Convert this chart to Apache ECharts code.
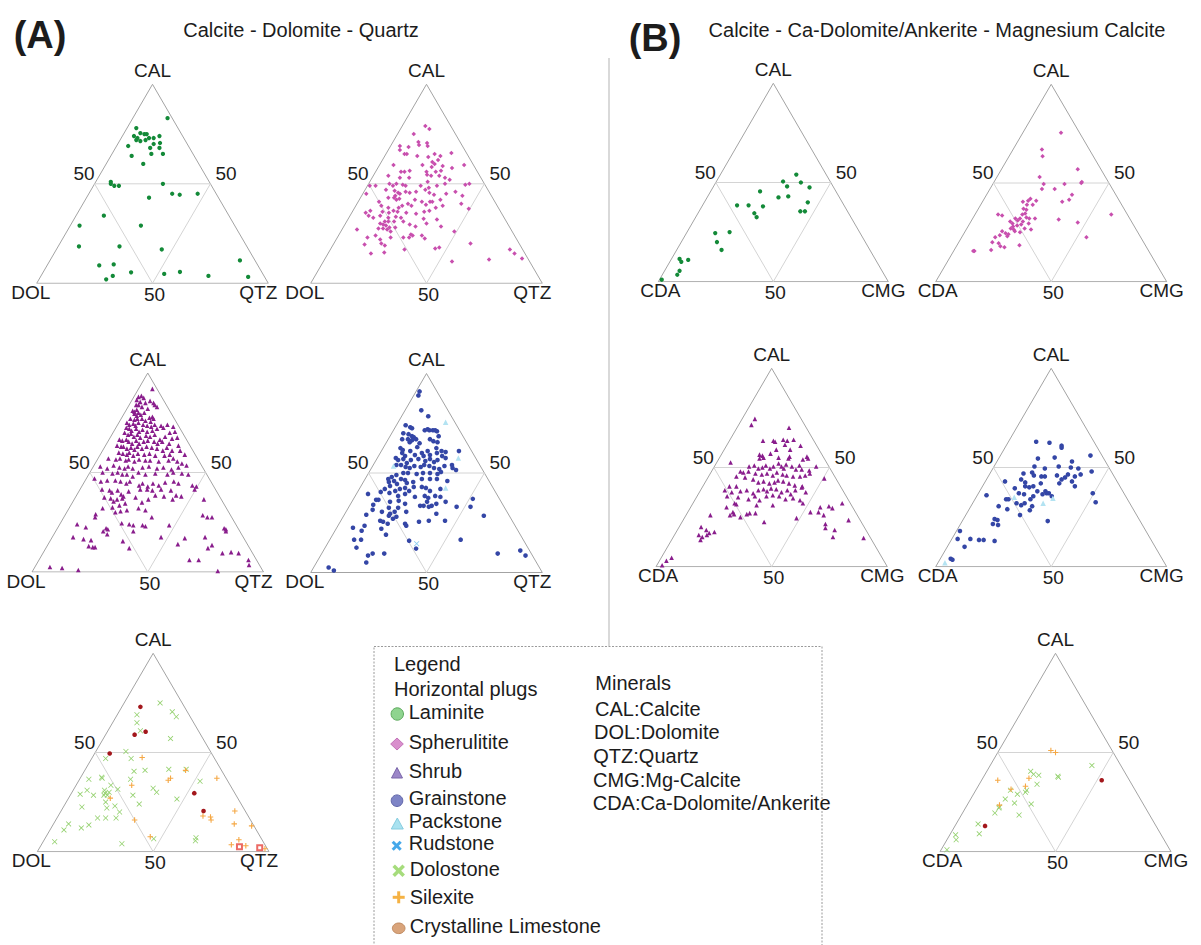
<!DOCTYPE html>
<html><head><meta charset="utf-8">
<script src="https://cdn.jsdelivr.net/npm/echarts/dist/echarts.min.js"></script>
<style>html,body{margin:0;padding:0;background:#fff}#c{width:1201px;height:945px}</style>
</head><body><div id="c"></div>
<script>
// ---------------- DATA (ternary compositions, percent) ----------------
// Panel A: [CAL, QTZ]  (DOL = 100 - CAL - QTZ)
const laminiteCDQ = [[83,15],[78,4],[74,5],[75.5,7],[75,9],[75,10],[73,12],[73,14],[74,16],[73,7],[72,7],[71.5,9],[72,11],[70.5,18],[70,15.5],[69,5],[68,15],[68,19],[64,9],[65,17],[65,22],[60,16],[51,6.5],[50,7],[49,9],[49,11],[50,29.5],[45,36],[44.5,39.5],[45,47],[43,27],[34,12],[29,4],[29,30.5],[18.5,9],[18.5,26.5],[17,45.5],[9,22.5],[9.5,28.5],[5.5,38],[3.7,31],[2,29],[4.7,52.7],[5.7,59],[3.7,72.3],[11.5,82],[3.2,89.7]];
const spherulititeCDQ = [[79,10],[77.5,12.5],[75,7],[71,11],[69.5,12],[70.5,15],[69,16],[69,4],[68.5,8],[67,5],[65,8],[65,9],[65,21],[64,24],[65.5,28],[64,14],[63.5,19],[62,24],[61,22],[59.5,6],[59.5,18.5],[60,23.5],[58.5,23],[59,27.5],[58,32],[59.5,36.5],[56,11],[56,12.5],[56.5,14.5],[56,22],[56,26],[56.5,28],[54,6.5],[53,12],[53,16],[54.5,23],[54,25],[54,28.5],[53,31.5],[52,34],[51,25],[49,1],[49,3.5],[50,9],[49,11],[50,12],[49.5,15],[49,16.5],[49,23],[48,27],[49,30],[50,33],[49.5,42],[50,43.5],[45,1.5],[47,9],[46.5,13],[45.5,15],[44,14.5],[45,16],[46,18],[45.5,20],[46,22.5],[47,26],[45.5,28.5],[44.5,31],[45,36],[46,39.5],[44,43.5],[41,9],[43,12],[43,14.5],[42,16],[42.5,17],[42,24],[41,27.5],[41,31],[41,32],[42,35],[40,45],[39,11],[38,14.5],[36.5,17.5],[38,19],[39,20],[40,22],[39,24],[39.5,30],[38,35],[39,37.5],[36.5,7.5],[35.5,6],[36,13],[35.5,16],[36,19.5],[35.5,23.5],[35,28],[36,31],[36.5,33],[37.5,49.5],[34,8],[33,10.5],[34,13],[33,17],[33.5,20],[33,22.5],[31,18],[31,16.5],[30,15],[29.5,16.5],[29,18],[28,20],[31,20.5],[31,24.5],[29.5,28],[32.5,32.5],[30,35],[32,38.5],[27.5,15.5],[27.5,17.5],[27,19.5],[26,21.5],[28,22.5],[28.5,31],[28.5,42],[27,6.5],[26,49],[23,13],[24,16],[22,19],[23,23],[23,28.5],[23,31],[24.5,31],[24,32],[24,36],[22.5,38],[19.5,13.5],[20,20.5],[19,22.5],[17,32],[17.5,45],[18,46.5],[20,59],[15,18.5],[15.5,24],[11,55.5],[12,71],[17,77.5],[15,80.5],[12.5,85]];
const shrubCDQ = [[92,6],[88,2],[88.5,3],[87.5,4.5],[86.5,2],[85.5,4],[85,6.5],[86,8],[85,10],[84,3],[84,4],[83,6],[82,9],[84,11],[83,12.5],[81,3],[80.5,4],[81.5,4.5],[80,6],[79.5,4.5],[78.5,6],[79,7.5],[80,8.5],[77.5,12],[78,13],[77,4],[76.5,6],[77,7],[77,9],[76,11],[75.5,13.5],[77,14],[75,3.5],[74,5],[74.5,6.5],[73.5,8],[75,8.5],[74,11],[73.5,13],[73,15],[74,16],[73.5,19],[74,21.5],[73,24.5],[72.5,4.5],[72,6],[71,7.5],[72,9],[70.5,11],[71.5,12],[70.5,14.5],[71,16.5],[72,18],[72.5,20.5],[70,24.5],[70.5,26.5],[70,5],[69,7],[69.5,8],[68,10],[69,11],[67.5,13],[68.5,15],[68,17],[69,18.5],[66.5,22],[68,23.5],[67,27],[67.5,29],[66.5,4.5],[66,6],[66.5,7.5],[65.5,9],[64.5,11],[66,12],[64.5,14],[65.5,15.5],[66,17],[65.5,20],[64.5,22],[65.5,23.5],[64.5,27],[63.5,31.5],[63.5,5],[63,7],[63,8],[62,10],[62.5,11.5],[61.5,13.5],[63,14],[62,16.5],[63,18],[62.5,20.5],[62,23],[61,26],[62.5,27],[61,30],[61,33.5],[60,7.5],[59.5,9.5],[59,11.5],[60,12],[58.5,14.5],[59.5,16],[59,19],[59.5,21],[58.5,24],[58.5,28],[59,30],[57,32.5],[59,36.5],[57,4.5],[56.5,8],[57,9.5],[56,12.5],[56.5,13.5],[55.5,16.5],[56.5,18],[56,21],[56,23],[55.5,27],[56,31],[55.5,35],[54.5,37.5],[53,3],[52,6.5],[53.5,8.5],[52.5,11.5],[52,14],[53,15],[52,17.5],[52.5,21.5],[53,24],[52,28],[52.5,30.5],[51.5,34.5],[52.5,37],[53.5,40],[50,5.5],[49.5,10],[50,12],[49,14.5],[49,16.5],[48,19.5],[50,21],[49,24.5],[49.5,28.5],[49,34],[50,36],[49.5,40],[49,43],[47,3.5],[45.5,7],[46,9.5],[46,13],[45.5,15.5],[44.5,18.5],[45.5,19.5],[43.5,24.5],[44.5,25.5],[43,28.5],[44.5,30],[43.5,33],[45,35],[45.5,38.5],[44.5,41],[43.5,47.5],[43,49.5],[41.5,9.5],[41,13],[40,14.5],[41,16.5],[39,19],[38,20.5],[40.5,21.5],[41.5,26],[41.5,29],[41,31.5],[41.5,35],[41,39.5],[38.5,43],[38,45.5],[41.5,49.5],[37.5,12.5],[37,15.5],[35.5,17.5],[36.5,18.5],[37,20.5],[34.5,23],[37.5,26],[35,30],[36.5,32],[38.5,34],[38,38],[36.5,42.5],[36.5,56],[32,14.5],[32.5,18.5],[33.5,21],[31,25.5],[32,30],[31,33.5],[28.5,59.5],[27.5,62],[27.5,64],[29,13],[27.5,13.5],[30,21],[30.5,23],[27.5,38],[24,7.5],[22.5,12],[22,21],[24.5,26.5],[24,30],[23.5,32],[23.5,36],[23,37.5],[23.5,47.5],[20.5,20.5],[21.5,22],[20.5,33.5],[17.5,47],[22,72],[21.5,73],[20.5,73.5],[17.5,9],[16.5,14],[16,17.5],[19,23],[17,57.5],[17.5,66],[13,18],[12.5,20],[12.5,21],[15.5,31.5],[12,36],[14,56],[12,70],[13.5,71],[9.5,77.5],[10,81],[9.5,84.5],[6,65],[6,69],[6,90.5],[3.5,92],[2.5,6.5],[2,12],[1,19.5],[0.5,80]];
const grainstoneCDQ = [[91,1.5],[89,2],[81.5,7],[78.5,11.5],[74,4],[73,6.5],[72.5,7.5],[71.5,13.5],[72,14.5],[71.5,15.5],[71.5,17],[71.5,18],[71,19],[70,5],[69.5,7.5],[68.5,9.5],[68,10.5],[67,12],[67,6],[67,8.5],[66.5,10.5],[68.5,21],[65.5,10],[65,14.5],[67,18],[66,20],[65.5,22],[62.5,7.5],[61.5,9],[61,12.5],[63,14.5],[60,18],[61,20],[62.5,23],[61,26],[60.5,28],[61,33.5],[60,9.5],[58.5,11.5],[59,15.5],[58.5,19.5],[59,22],[60,24.5],[58.5,27.5],[57.5,29.5],[57.5,8],[56.5,9.5],[57,11.5],[55,14],[56.5,15],[57,18],[56,21.5],[57,23],[55.5,25.5],[56.5,26.5],[54,10],[54,12],[53,14.5],[52.5,16.5],[53.5,18],[53,21],[54,22],[53.5,24.5],[52.5,27],[52,29.5],[53.5,31],[52.5,35],[51.5,37],[54,34],[47,10],[48,11],[49,12.5],[50,15],[50,17],[49.5,21],[50,23.5],[50,26.5],[49.5,30],[50.5,31],[45.5,11],[46,13],[44.5,15],[47,15.5],[46.5,17.5],[45,19],[45.5,21.5],[47,24.5],[47,28],[47,31],[46,36],[42,11],[43.5,12.5],[41,16],[42,17.5],[42.5,19.5],[41,22],[43,23],[43,26.5],[42.5,28.5],[41,31],[42,35],[39.5,5],[40.5,10],[40,14],[38.5,18.5],[39.5,21],[38,26],[38.5,30],[37.5,32],[38.5,34.5],[38,37],[36.5,10],[36.5,11],[35.5,16.5],[36,20],[35.5,32.5],[33.5,35.5],[34.5,37],[35.5,40.5],[37,51.5],[34,10],[32.5,17.5],[32.5,21.5],[34.5,23.5],[33.5,30.5],[33.5,32],[33,34.5],[33,46.5],[33,52.5],[29,9.5],[31.5,11],[30.5,15.5],[29.5,19.5],[30.5,21],[28.5,19.5],[27,22],[28,23],[30.5,26],[29.5,39.5],[28.5,60.5],[26,17],[25.5,18.5],[24.5,21],[24.5,28.5],[23.5,29.5],[25.5,34],[26,38],[26,45],[22.5,7],[23.5,11.5],[21,11.5],[22,19.5],[19,23],[16.5,10.5],[16.5,13.5],[16,34.5],[16.5,56.5],[12.5,13.5],[12,39.5],[8.5,20.5],[9.5,22],[9.5,27],[5,21.5],[9.5,76],[11,85],[8.5,88.5],[2.5,6.5],[1,9.5]];
const packstoneCDQ = [[75.5,20.5],[57.5,35],[53.5,9],[42.5,37]];
const rudstoneCDQ = [[14.5,38.5]];
const dolostoneCDQ = [[75,15.5],[69,8.5],[70.5,23],[68,26],[65,10.5],[61,14],[57,29],[50.5,13],[47,6],[47,17],[40.5,21.5],[41,26],[41.5,36],[41.5,43.5],[36.5,4],[37.5,9],[37,9.5],[36.5,22],[33.5,15],[31.5,19],[31,13.5],[31,6],[29,4],[28.5,10],[29.5,14.5],[28.5,14.5],[28.5,16],[30,16],[32,34],[30,36.5],[28.5,27],[24,32],[26.5,47],[35.5,52.5],[22.5,8],[25,17],[23,22],[20,25.5],[22,19],[14,6.5],[11,6],[12,13],[13.5,15.5],[17,17.5],[17,21],[17,25.5],[5,5],[4,34.5],[7,65],[5.5,65.5],[6.5,47]];
const silexiteCDQ = [[47.5,21.5],[36,38.5],[37,39],[33.5,24],[27,18],[41,43.5],[16,34],[7.5,45],[37,59],[18,62.5],[17.5,66],[16,67],[20.5,75],[14,78],[13,86],[6,84],[3.5,82],[3,88.5],[1.5,97.5]];
const crystallineCDQ = [[73,8],[60.5,16.5],[59,12.5],[49.5,6.5],[29.5,53],[20.5,61.5]];
const squaresCDQ = [[2.5,86],[2,95]];

// Panel B: [CAL, CMG]  (CDA = 100 - CAL - CMG)
const laminiteCCM = [[54,33],[50.5,29],[50,37],[48,32],[47.5,42],[45.5,21.5],[42.5,31],[43,35],[40,45],[38.5,15],[38.5,20],[38,26.5],[34.5,24.5],[32.5,26.5],[35.5,44],[35.5,46],[25,18.5],[24.5,12.5],[20,15.5],[16,19.5],[11.5,3.5],[10,5],[11,7.5],[5.5,6.5],[3.5,6.5],[1,1]];
const spherulititeCCM = [[75.5,16.5],[67,12.5],[63.5,14.5],[53,18.5],[57,33],[49.5,22],[49.5,31],[50,38],[50.5,38],[47,22.5],[47,28],[44,37],[40.5,34.5],[41.5,37],[42,20],[41,19.5],[41,23],[40.5,17.5],[39,20],[37,19.5],[36.5,21],[39,22.5],[34.5,21.5],[34,20.5],[32,20.5],[32.5,23],[32,24.5],[32,27],[34,10],[33.5,12],[30.5,17],[32,18.5],[31,20],[30.5,22.5],[29.5,25.5],[28.5,21],[28,19.5],[27,19],[27,25],[26.5,28],[25.5,21.5],[25,24],[25.5,16],[24.5,18],[23,19.5],[23.5,16],[22.5,14.5],[24,19.5],[31.5,37.5],[30,46.5],[22.5,54],[34,59],[17.5,21],[20,14.5],[19.5,17.5],[18,19],[18.5,27],[16,16],[15.5,9],[15.5,8.5],[29.5,18.5],[29,22.5],[26.5,20.5]];
const shrubCCM = [[74.5,5.5],[71.5,5.5],[70,22.5],[63.5,14.5],[63.5,19],[63,20],[64,23],[63.5,25],[64,27.5],[61.5,25],[59,28.5],[61,32],[59,22.5],[52.5,6],[56.5,16.5],[56,18],[55,19],[54.5,17.5],[57,21],[55,25.5],[54.5,30],[55.5,30],[55.5,37.5],[54,36.5],[54.5,38.5],[51,36.5],[50.5,15],[51,17],[49.5,19.5],[50,21],[51,22],[49.5,24.5],[50.5,25.5],[52,27],[50.5,29],[49.5,30.5],[51.5,30.5],[50.5,33.5],[49,36],[49,38.5],[48.5,42],[50.5,44],[44.5,50.5],[48,12.5],[47.5,14],[48,16],[47,19.5],[46.5,22.5],[47,24.5],[46,27.5],[47.5,28.5],[46.5,31.5],[46,33.5],[45.5,36.5],[45.5,39.5],[46,41.5],[47,43],[45.5,12],[45,16],[44,20],[42.5,23],[43,25],[42,28],[42.5,30],[43.5,31],[43,33.5],[42,36.5],[41,39.5],[40.5,43],[40.5,11.5],[40.5,14.5],[38.5,10.5],[37.5,14],[38,17.5],[38.5,20],[37,23.5],[38.5,25],[39,27],[38,29],[39.5,30],[39,32.5],[37.5,35.5],[38.5,37.5],[36.5,40],[38.5,41],[40,43],[37.5,46],[35.5,13],[35,18],[34,23],[35.5,25],[33.5,28],[35.5,30],[36,32.5],[35.5,35.5],[34,39],[34.5,42],[33.5,45.5],[32,47.5],[32,18],[31.5,19],[31,35],[31,28],[30,15.5],[27.5,19.5],[26,19],[26.5,20.5],[26.5,26],[27,27],[27,29.5],[25,24],[26,10.5],[22.5,35.5],[24.5,48.5],[27.5,53],[27.5,56.5],[26,59.5],[30.5,59.5],[29.5,61.5],[32,64.5],[30,56],[21.5,62.5],[19.5,63.5],[23.5,71.5],[18.5,68],[15,69],[14.5,82.5],[20,9.5],[18.5,12.5],[17,14.5],[17.5,16.5],[16,10.5],[15,12.5],[16,14],[13.5,12.5],[4.5,4.5],[3,3],[0.7,2.3]];
const grainstoneCCM = [[63,12],[62.5,18],[61,24],[60,24.5],[56,39],[54.5,17],[55,24],[53,32.5],[50.5,17.5],[49.5,22.5],[50.5,28],[50,33.5],[49.5,37],[48,43.5],[46.5,39.5],[45.5,37.5],[46.5,34],[46,29.5],[45,33.5],[43,37.5],[40.5,40],[44,32.5],[42,32.5],[47,14.5],[47.5,18],[46,19.5],[45.5,23],[45.5,24.5],[44,15],[42.5,17.5],[40,20.5],[40.5,22],[42,24.5],[39.5,14.5],[40.5,18.5],[38,25],[38,28.5],[37,29.5],[37,30.5],[36.5,28],[35.5,32.5],[36.5,20],[37,17.5],[35.5,24.5],[43,8.5],[36,4],[34,13.5],[34,14.5],[32,19],[31,21.5],[32,22.5],[34,24],[30.5,26.5],[30.5,12],[29,16.5],[26,23.5],[28.5,26.5],[23,37],[37,49.5],[32.5,53],[24,13.5],[23.5,15],[21.5,14],[21,16.5],[18,1.5],[14,2.5],[14,8],[13.5,12],[13.5,14],[13,19],[10,7.5],[4,4.5],[3.5,5.5]];
const packstoneCCM = [[35,16.5],[32,30.5],[34.5,33.5],[2,3]];
const dolostoneCCM = [[43.5,44],[38,32],[37.5,32.5],[40.5,19],[39,21],[38.5,23.5],[34,25],[31,22],[30,22],[29,19],[31,15],[26.5,15],[22.5,14.5],[22,14.5],[24.5,20],[24,27.5],[18.5,25],[19.5,14],[14,9.5],[9,12.5],[8.5,2.5],[6,4],[1,2.5]];
const silexiteCCM = [[51,22.5],[50,25],[36,7],[37,20],[33,20.5],[31.5,15],[23.5,14]];
const crystallineCCM = [[36,52],[13,13]];

// labels
const vertexLabelsA = ['CAL', 'DOL', 'QTZ'];
const vertexLabelsB = ['CAL', 'CDA', 'CMG'];
const tickLabel = '50';
const titleA = ['(A)', 'Calcite - Dolomite - Quartz'];
const titleB = ['(B)', 'Calcite - Ca-Dolomite/Ankerite - Magnesium Calcite'];
const legendHeads = ['Legend', 'Horizontal plugs'];
const legendItems = ['Laminite', 'Spherulitite', 'Shrub', 'Grainstone', 'Packstone', 'Rudstone', 'Dolostone', 'Silexite', 'Crystalline Limestone'];
const mineralHead = 'Minerals';
const mineralItems = ['CAL:Calcite', 'DOL:Dolomite', 'QTZ:Quartz', 'CMG:Mg-Calcite', 'CDA:Ca-Dolomite/Ankerite'];

// ---------------- LAYOUT ----------------
const TRI = [
  {lx: 36.7, rx: 268.3, ay: 84.3, by: 283.3, k: 'A'},
  {lx: 310.7, rx: 542.3, ay: 84.3, by: 283.3, k: 'A'},
  {lx: 32, rx: 263.5, ay: 373, by: 572, k: 'A'},
  {lx: 310.7, rx: 542.3, ay: 373.5, by: 572.5, k: 'A'},
  {lx: 37.3, rx: 269, ay: 653.3, by: 851.7, k: 'A'},
  {lx: 658.3, rx: 888.3, ay: 83.3, by: 281.7, k: 'B'},
  {lx: 935.7, rx: 1166.7, ay: 84.3, by: 281.7, k: 'B'},
  {lx: 656, rx: 887.3, ay: 368.3, by: 566.7, k: 'B'},
  {lx: 935.7, rx: 1166.7, ay: 368.3, by: 566.7, k: 'B'},
  {lx: 940, rx: 1171, ay: 653.3, by: 851.7, k: 'B'}
];

const X_PATH = 'path://M1,0L5,4L9,0L10,1L6,5L10,9L9,10L5,6L1,10L0,9L4,5L0,1Z';
const PLUS_PATH = 'path://M4,0H6V4H10V6H6V10H4V6H0V4H4Z';
const STY = {
  laminite: {symbol: 'circle', size: 4.3, color: '#138a38'},
  spherulitite: {symbol: 'diamond', size: 4.5, color: '#c84fae'},
  shrub: {symbol: 'triangle', size: 4.6, color: '#891d8c'},
  grainstone: {symbol: 'circle', size: 4.6, color: '#3446a6'},
  packstone: {symbol: 'triangle', size: 5.5, color: '#b3e3f2'},
  rudstone: {symbol: X_PATH, size: 5.5, color: '#8ccdf0'},
  dolostone: {symbol: X_PATH, size: 5.5, color: '#92d06c'},
  silexite: {symbol: PLUS_PATH, size: 5.5, color: '#f5a845'},
  crystalline: {symbol: 'circle', size: 4.6, color: '#a3171c'},
  squares: {symbol: 'emptyRect', size: 5, color: '#ec6a64'}
};

const PLOTS = [
  [0, laminiteCDQ, 'laminite'],
  [1, spherulititeCDQ, 'spherulitite'],
  [2, shrubCDQ, 'shrub'],
  [3, grainstoneCDQ, 'grainstone'], [3, packstoneCDQ, 'packstone'], [3, rudstoneCDQ, 'rudstone'],
  [4, dolostoneCDQ, 'dolostone'], [4, silexiteCDQ, 'silexite'], [4, crystallineCDQ, 'crystalline'], [4, squaresCDQ, 'squares'],
  [5, laminiteCCM, 'laminite'],
  [6, spherulititeCCM, 'spherulitite'],
  [7, shrubCCM, 'shrub'],
  [8, grainstoneCCM, 'grainstone'], [8, packstoneCCM, 'packstone'],
  [9, dolostoneCCM, 'dolostone'], [9, silexiteCCM, 'silexite'], [9, crystallineCCM, 'crystalline']
];

// ternary [top, right] -> cartesian (x across base, y height), both 0..100
const tern = (top, right) => [right + top / 2, top];
const FRAME = [[0, 0], [100, 0], [0, 100], [0, 0]];
const INNER = [[50, 0], [50, 50], [0, 50], [50, 0]];

const FONT = '"Liberation Sans", Arial, Helvetica, sans-serif';
function txt(x, y, text, size, align, bold) {
  return {type: 'text', x: x, y: y, silent: true, z: 10,
    style: {text: text, fill: '#1c1c1c', font: (bold ? 'bold ' : '') + size + 'px ' + FONT,
      textAlign: align, align: align, textVerticalAlign: 'middle', verticalAlign: 'middle'}};
}

const grid = [], xAxis = [], yAxis = [], series = [], graphic = [];
TRI.forEach((t, i) => {
  grid.push({left: t.lx, top: t.ay, width: t.rx - t.lx, height: t.by - t.ay});
  xAxis.push({type: 'value', gridIndex: i, min: 0, max: 100, show: false});
  yAxis.push({type: 'value', gridIndex: i, min: 0, max: 100, show: false});
  series.push({type: 'line', xAxisIndex: i, yAxisIndex: i, data: FRAME.map(p => tern(p[0], p[1])),
    symbol: 'none', silent: true, z: 1, lineStyle: {color: '#a3a3a3', width: 1}});
  series.push({type: 'line', xAxisIndex: i, yAxisIndex: i, data: INNER.map(p => tern(p[0], p[1])),
    symbol: 'none', silent: true, z: 1, lineStyle: {color: '#d4d4d4', width: 1}});
  const labs = t.k === 'A' ? vertexLabelsA : vertexLabelsB;
  const W = t.rx - t.lx, ax = t.lx + W / 2, my = (t.ay + t.by) / 2;
  graphic.push(txt(ax, t.ay - 14, labs[0], 19, 'center'));
  graphic.push(txt(t.lx + W / 4, my - 10.5, tickLabel, 19, 'right'));
  graphic.push(txt(t.lx + 3 * W / 4 + 5, my - 10.5, tickLabel, 19, 'left'));
  graphic.push(txt(ax + 2, t.by + 11, tickLabel, 19, 'center'));
  graphic.push(txt(t.k === 'A' ? t.lx - 6 : t.lx + 2, t.by + 9, labs[1], 19, 'center'));
  graphic.push(txt(t.k === 'A' ? t.rx - 10 : t.rx - 5, t.by + 9, labs[2], 19, 'center'));
});
PLOTS.forEach(([i, arr, key]) => {
  const s = STY[key];
  series.push({type: 'scatter', xAxisIndex: i, yAxisIndex: i, name: key, clip: false, silent: true, z: 3,
    symbol: s.symbol, symbolSize: s.size, itemStyle: {color: s.color, opacity: 1},
    data: arr.map(p => tern(p[0], p[1]))});
});

// titles
graphic.push(txt(40, 35, titleA[0], 38, 'center', true));
graphic.push(txt(301, 30, titleA[1], 20, 'center'));
graphic.push(txt(655, 38, titleB[0], 38, 'center', true));
graphic.push(txt(937, 30, titleB[1], 20, 'center'));
// divider
graphic.push({type: 'line', silent: true, shape: {x1: 609, y1: 58, x2: 609, y2: 646}, style: {stroke: '#b3b3b3', lineWidth: 1}});
// legend box
graphic.push({type: 'rect', silent: true, shape: {x: 374, y: 646.5, width: 448, height: 320},
  style: {fill: 'none', stroke: '#9a9a9a', lineWidth: 1, lineDash: [2, 1.5]}});
graphic.push(txt(394, 664, legendHeads[0], 20, 'left'));
graphic.push(txt(394, 689, legendHeads[1], 20, 'left'));
const legY = [711.7, 741.7, 771, 797.7, 821, 843.3, 868.7, 897.3, 925.7];
legendItems.forEach((s, j) => graphic.push(txt(j < 6 ? 408.7 : 409.7, legY[j], s, 20, 'left')));
graphic.push(txt(595.3, 683.3, mineralHead, 20, 'left'));
const minY = [709, 731.7, 755.7, 780, 803.3];
const minX = [595, 594, 593.3, 593, 592.7];
mineralItems.forEach((s, j) => graphic.push(txt(minX[j], minY[j], s, 20, 'left')));
// legend symbols
graphic.push({type: 'circle', silent: true, shape: {cx: 397.3, cy: 714, r: 6.2}, style: {fill: '#8fd48f', stroke: '#5aa85a', lineWidth: 1}});
graphic.push({type: 'polygon', silent: true, shape: {points: [[390.7, 744], [397, 738], [403.3, 744], [397, 750]]}, style: {fill: '#d98fcd', stroke: '#c474b8', lineWidth: 1}});
graphic.push({type: 'polygon', silent: true, shape: {points: [[391.5, 778], [397, 767.5], [402.5, 778]]}, style: {fill: '#9c87c8', stroke: '#7a66aa', lineWidth: 1}});
graphic.push({type: 'circle', silent: true, shape: {cx: 397, cy: 800.7, r: 5.8}, style: {fill: '#7e84c6', stroke: '#5f64a8', lineWidth: 1}});
graphic.push({type: 'polygon', silent: true, shape: {points: [[391.3, 829], [397.3, 818], [403.3, 829]]}, style: {fill: '#a9e2f0', stroke: '#86cde0', lineWidth: 1}});
graphic.push({type: 'line', silent: true, shape: {x1: 392.7, y1: 841.7, x2: 400.7, y2: 849.7}, style: {stroke: '#45a8ea', lineWidth: 3}});
graphic.push({type: 'line', silent: true, shape: {x1: 400.7, y1: 841.7, x2: 392.7, y2: 849.7}, style: {stroke: '#45a8ea', lineWidth: 3}});
graphic.push({type: 'line', silent: true, shape: {x1: 393.7, y1: 865.7, x2: 403.7, y2: 875.7}, style: {stroke: '#a6dc7c', lineWidth: 3.5}});
graphic.push({type: 'line', silent: true, shape: {x1: 403.7, y1: 865.7, x2: 393.7, y2: 875.7}, style: {stroke: '#a6dc7c', lineWidth: 3.5}});
graphic.push({type: 'line', silent: true, shape: {x1: 392.7, y1: 897.3, x2: 404.7, y2: 897.3}, style: {stroke: '#f5b244', lineWidth: 3}});
graphic.push({type: 'line', silent: true, shape: {x1: 398.7, y1: 891.3, x2: 398.7, y2: 903.3}, style: {stroke: '#f5b244', lineWidth: 3}});
graphic.push({type: 'ellipse', silent: true, shape: {cx: 398.7, cy: 928.3, rx: 6.3, ry: 5.3}, style: {fill: '#d9a47b', stroke: '#c08a60', lineWidth: 1}});

const chart = echarts.init(document.getElementById('c'), null, {renderer: 'svg', width: 1201, height: 945});
chart.setOption({animation: false, backgroundColor: '#fff', grid, xAxis, yAxis, series, graphic});
</script>
</body></html>
